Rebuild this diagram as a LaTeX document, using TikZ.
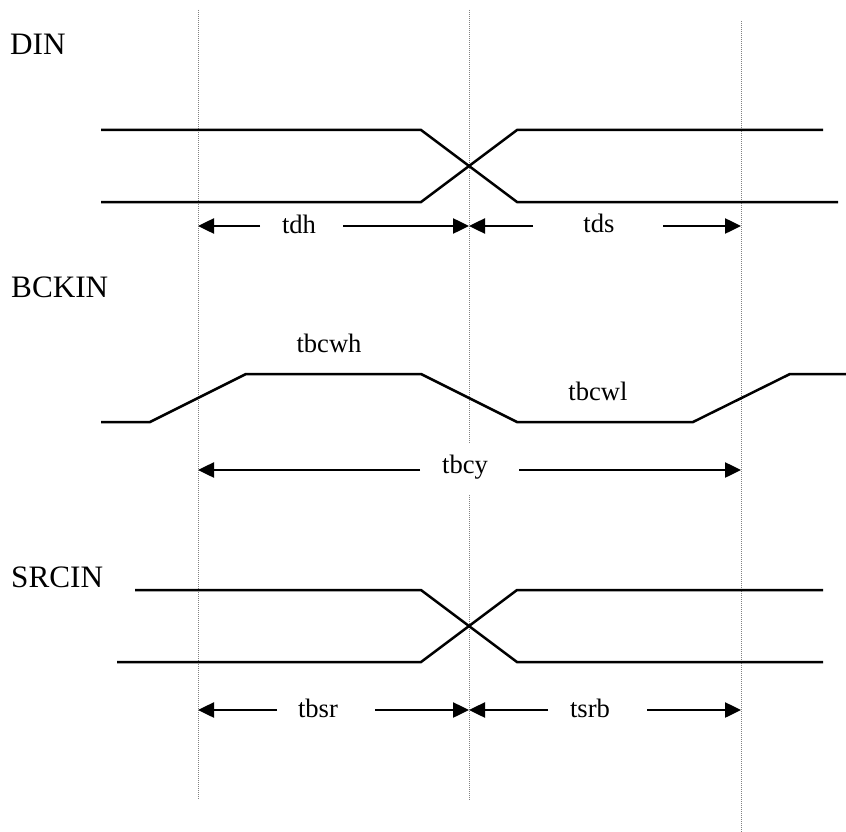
\documentclass[tikz,border=0pt]{standalone}
\usepackage{fontspec}
\setmainfont{Liberation Serif}
\usetikzlibrary{arrows.meta}
\begin{document}
\begin{tikzpicture}[x=1pt,y=-1pt,
  wave/.style={line width=2.5pt,line join=miter},
  guide/.style={gray,line width=0.8pt,dash pattern=on 1pt off 1pt},
  dim/.style={line width=2.5pt,-{Triangle[length=16pt,width=15pt]}},
  sig/.style={anchor=base west,inner sep=0pt,font=\fontsize{31.2}{36}\selectfont},
  tlab/.style={anchor=base,inner sep=0pt,font=\fontsize{26.6}{30}\selectfont}]
\useasboundingbox (0,0) rectangle (846,832);
% guide lines
\coordinate (gAt) at (198,10);  \coordinate (gAb) at (198,800);
\coordinate (gBt) at (469,10);  \coordinate (gBm1) at (469,443);
\coordinate (gBm2) at (469,495); \coordinate (gBb) at (469,800);
\coordinate (gCt) at (741,21);  \coordinate (gCb) at (741,832);
\draw[guide] (gAt) -- (gAb);
\draw[guide] (gBt) -- (gBm1);
\draw[guide] (gBm2) -- (gBb);
\draw[guide] (gCt) -- (gCb);
% signal names
\node[sig] (din) at (10,55) {DIN};
\node[sig] (bckin) at (11,297) {BCKIN};
\node[sig] (srcin) at (11,587) {SRCIN};
% DIN waveform
\draw[wave] (101,130) -- (421,130) -- (517,202) -- (838,202);
\draw[wave] (101,202) -- (421,202) -- (517,130) -- (823,130);
% BCKIN waveform
\draw[wave] (101,422) -- (150,422) -- (246,374) -- (421,374) -- (517,422) -- (693,422) -- (790,374) -- (846,374);
% SRCIN waveform
\draw[wave] (135,590) -- (421,590) -- (517,662) -- (823,662);
\draw[wave] (117,662) -- (421,662) -- (517,590) -- (823,590);
% timing labels
\node[tlab] (tdh) at (299,233) {tdh};
\node[tlab] (tds) at (599,232) {tds};
\node[tlab] (tbcwh) at (329,352) {tbcwh};
\node[tlab] (tbcwl) at (598,400) {tbcwl};
\node[tlab] (tbcy) at (465,473) {tbcy};
\node[tlab] (tbsr) at (318,717) {tbsr};
\node[tlab] (tsrb) at (590,717) {tsrb};
% dimension arrow coordinates
\coordinate (a1s) at (260,226); \coordinate (a1e) at (198,226);
\coordinate (a2s) at (343,226); \coordinate (a2e) at (469,226);
\coordinate (a3s) at (533,226); \coordinate (a3e) at (469,226);
\coordinate (a4s) at (663,226); \coordinate (a4e) at (741,226);
\coordinate (b1s) at (420,470); \coordinate (b1e) at (198,470);
\coordinate (b2s) at (519,470); \coordinate (b2e) at (741,470);
\coordinate (c1s) at (277,710); \coordinate (c1e) at (198,710);
\coordinate (c2s) at (375,710); \coordinate (c2e) at (469,710);
\coordinate (c3s) at (548,710); \coordinate (c3e) at (469,710);
\coordinate (c4s) at (647,710); \coordinate (c4e) at (741,710);
\draw[dim] (a1s) -- (a1e);
\draw[dim] (a2s) -- (a2e);
\draw[dim] (a3s) -- (a3e);
\draw[dim] (a4s) -- (a4e);
\draw[dim] (b1s) -- (b1e);
\draw[dim] (b2s) -- (b2e);
\draw[dim] (c1s) -- (c1e);
\draw[dim] (c2s) -- (c2e);
\draw[dim] (c3s) -- (c3e);
\draw[dim] (c4s) -- (c4e);
\end{tikzpicture}
\end{document}
